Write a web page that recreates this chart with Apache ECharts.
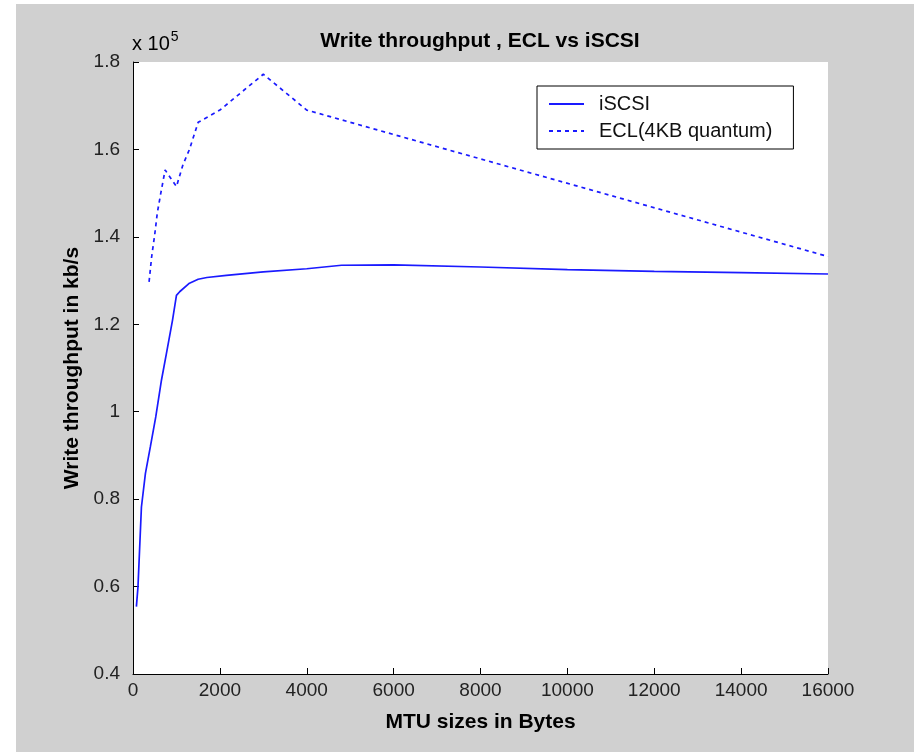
<!DOCTYPE html>
<html>
<head>
<meta charset="utf-8">
<title>Write throughput, ECL vs iSCSI</title>
<script src="https://cdn.jsdelivr.net/npm/echarts@6/dist/echarts.min.js"></script>
<style>
  html, body { margin: 0; padding: 0; background: #ffffff; }
  #chart { position: absolute; left: 16px; top: 4px; width: 898px; height: 748px; }
</style>
</head>
<body>
<div id="chart"></div>
<script>
// MTU size (bytes) -> write throughput (kb/s)
const iscsiMtu = [78, 115, 194, 286, 400, 524, 655, 771, 909, 1000, 1080, 1300, 1500, 1700, 2150, 3000, 4000, 4800, 6000, 8000, 10000, 12000, 14000, 16000];
const iscsiKbps = [55400, 60000, 78200, 85900, 92000, 98800, 107200, 113400, 120900, 126600, 127500, 129400, 130300, 130700, 131200, 132000, 132700, 133500, 133600, 133100, 132500, 132100, 131800, 131500];

const eclMtu = [370, 430, 500, 560, 640, 740, 780, 1000, 1150, 1300, 1500, 2000, 3000, 4000, 16000];
const eclKbps = [129700, 135500, 140500, 145500, 150000, 155300, 155500, 151500, 156500, 160000, 166200, 169000, 177200, 169000, 135500];

const seriesNames = ['iSCSI', 'ECL(4KB quantum)'];
const yTicks = [40000, 60000, 80000, 100000, 120000, 140000, 160000, 180000];
const xTicks = [0, 2000, 4000, 6000, 8000, 10000, 12000, 14000, 16000];

const FONT = '"Liberation Sans", Arial, Helvetica, sans-serif';
const BLUE = '#1a1aff';

const chart = echarts.init(document.getElementById('chart'));

const pairs = (xs, ys) => xs.map((x, i) => [x, ys[i]]);

const option = {
    animation: false,
    backgroundColor: '#d0d0d0',
    textStyle: { fontFamily: FONT },
    grid: {
        left: 117,
        right: 86,
        top: 58,
        bottom: 78,
        show: true,
        backgroundColor: '#ffffff',
        borderWidth: 0
    },
    graphic: [
        {
            type: 'text',
            x: 464,
            y: 37,
            style: {
                text: 'Write throughput , ECL vs iSCSI',
                font: 'bold 21px ' + FONT,
                fill: '#000',
                align: 'center',
                verticalAlign: 'middle'
            }
        },
        {
            type: 'text',
            x: 116,
            y: 26,
            style: {
                text: '{a|x 10}{b|5}',
                rich: {
                    a: { fontSize: 20, fontFamily: FONT, color: '#222', verticalAlign: 'bottom' },
                    b: { fontSize: 14, fontFamily: FONT, color: '#222', verticalAlign: 'top', padding: [0, 0, 10, 1] }
                }
            }
        }
    ],
    legend: {
        data: seriesNames,
        orient: 'vertical',
        left: 521,
        top: 82,
        itemWidth: 35,
        itemHeight: 10,
        itemGap: 7,
        padding: [8, 21, 8, 11],
        backgroundColor: '#ffffff',
        borderColor: '#000',
        borderWidth: 1,
        borderRadius: 0,
        itemStyle: { opacity: 0 },
        textStyle: { fontSize: 20, color: '#111', fontFamily: FONT, padding: [0, 0, 0, 10] }
    },
    xAxis: {
        type: 'value',
        min: xTicks[0],
        max: xTicks[xTicks.length - 1],
        interval: 2000,
        name: 'MTU sizes in Bytes',
        nameLocation: 'middle',
        nameGap: 38,
        nameTextStyle: { fontSize: 21, fontWeight: 'bold', color: '#000', fontFamily: FONT },
        axisLine: { onZero: false, lineStyle: { color: '#000', width: 1 } },
        axisTick: { inside: true, length: 6, lineStyle: { color: '#000' } },
        axisLabel: { fontSize: 19, color: '#222', margin: 7, fontFamily: FONT, formatter: v => String(v) },
        splitLine: { show: false }
    },
    yAxis: {
        type: 'value',
        min: yTicks[0],
        max: yTicks[yTicks.length - 1],
        interval: 20000,
        name: 'Write throughput in kb/s',
        nameLocation: 'middle',
        nameGap: 44,
        nameTextStyle: { fontSize: 21, fontWeight: 'bold', color: '#000', fontFamily: FONT },
        axisLine: { show: true, onZero: false, lineStyle: { color: '#000', width: 1 } },
        axisTick: { show: true, inside: true, length: 6, lineStyle: { color: '#000' } },
        axisLabel: {
            fontSize: 19,
            color: '#222',
            margin: 13,
            fontFamily: FONT,
            formatter: v => String(parseFloat((v / 1e5).toFixed(1)))
        },
        splitLine: { show: false }
    },
    series: [
        {
            name: seriesNames[0],
            type: 'line',
            data: pairs(iscsiMtu, iscsiKbps),
            showSymbol: false,
            symbol: 'none',
            lineStyle: { color: BLUE, width: 1.7, type: 'solid' },
            itemStyle: { color: BLUE }
        },
        {
            name: seriesNames[1],
            type: 'line',
            data: pairs(eclMtu, eclKbps),
            showSymbol: false,
            symbol: 'none',
            lineStyle: { color: BLUE, width: 1.7, type: [4, 4] },
            itemStyle: { color: BLUE }
        }
    ]
};

chart.setOption(option);
</script>
</body>
</html>
